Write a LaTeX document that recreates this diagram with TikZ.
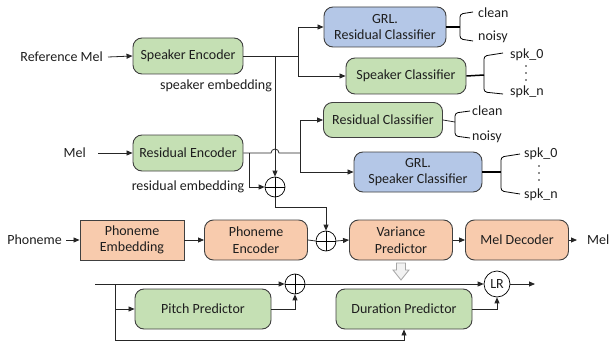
\documentclass[tikz,border=0pt]{standalone}
\usepackage{fontspec}
\setmainfont{Carlito}
\usetikzlibrary{arrows.meta}
\definecolor{gfill}{HTML}{C5E0B4}
\definecolor{bfill}{HTML}{B4C7E7}
\definecolor{ofill}{HTML}{F8CBAD}
\definecolor{edge}{HTML}{404040}
\definecolor{txt}{HTML}{1E1E1E}
\tikzset{
  box/.style={draw=edge, line width=0.9pt, rounded corners=9pt, align=center, inner sep=0pt, text=txt, font=\fontsize{14}{16.5}\selectfont},
  gbox/.style={box, fill=gfill},
  bbox/.style={box, fill=bfill},
  obox/.style={box, fill=ofill},
  plus/.style={circle, draw=black, line width=0.7pt, minimum size=20pt, inner sep=0pt,
    path picture={\draw[line width=0.7pt] (path picture bounding box.north) -- (path picture bounding box.south) (path picture bounding box.west) -- (path picture bounding box.east);}},
  lbl/.style={text=txt, font=\fontsize{14}{16.5}\selectfont, inner sep=0pt},
  conn/.style={line width=0.8pt, draw=black!85},
  arr/.style={conn, -{Triangle[length=6pt,width=5pt]}},
  brk/.style={line width=0.8pt, rounded corners=3pt},
  stub/.style={line width=1.5pt},
}
\begin{document}
\begin{tikzpicture}[x=1pt,y=-1pt]
\useasboundingbox (0,0) rectangle (611,345);
% encoders
\node[gbox, minimum width=110pt, minimum height=36pt] (spkenc) at (188,56) {Speaker Encoder};
\node[gbox, minimum width=110pt, minimum height=36pt] (resenc) at (188,153) {Residual Encoder};
\node[lbl, anchor=east] (refmel) at (103,57) {Reference Mel};
\node[lbl, anchor=east] (mel) at (86,153) {Mel};
\node[lbl] (spkemb) at (216,86) {speaker embedding};
\node[lbl] (resemb) at (188,187) {residual embedding};
% classifiers
\node[bbox, minimum width=122pt, minimum height=40pt] (grlres) at (385,27) {GRL.\\Residual Classifier};
\node[gbox, minimum width=120pt, minimum height=36pt] (spkcls) at (406,76) {Speaker Classifier};
\node[gbox, minimum width=119pt, minimum height=35pt] (rescls) at (383,120) {Residual Classifier};
\node[bbox, minimum width=128pt, minimum height=40pt] (grlspk) at (418,172) {GRL.\\Speaker Classifier};
% phoneme row
\node[obox, rounded corners=0pt, minimum width=104pt, minimum height=40pt] (phemb) at (132,240) {Phoneme\\Embedding};
\node[obox, minimum width=103pt, minimum height=40pt] (phenc) at (256,240) {Phoneme\\Encoder};
\node[obox, minimum width=103pt, minimum height=40pt] (varp) at (401,240) {Variance\\Predictor};
\node[obox, minimum width=103pt, minimum height=40pt] (meldec) at (517,240) {Mel Decoder};
\node[lbl, anchor=east] (phon) at (62,240) {Phoneme};
\node[lbl, anchor=west] (melout) at (587,240) {Mel};
\coordinate (melend) at (577,240);
% predictors
\node[gbox, minimum width=136pt, minimum height=40pt] (pitch) at (203,309) {Pitch Predictor};
\node[gbox, minimum width=136pt, minimum height=40pt] (dur) at (404,309) {Duration Predictor};
% sum circles
\node[plus] (s1) at (275,187) {};
\node[plus] (s2) at (326,241) {};
\node[plus] (s3) at (295,284) {};
\node[circle, draw=black, line width=0.7pt, minimum size=26pt, inner sep=0pt, lbl] (lr) at (497,284) {LR};
% inputs
\draw[arr] (refmel.east) ++(5,0) -- (spkenc.west);
\draw[arr] (mel.east) ++(12,0) -- (resenc.west);
\draw[arr] (phon.east) ++(4,0) -- (phemb.west);
% speaker encoder outputs
\draw[conn] (spkenc.east) -- (298,56);
\draw[arr] (298,27) -- (grlres.west);
\draw[arr] (298,27) -- (298,76) -- (spkcls.west);
\draw[arr] (275,56) -- (s1.north);
% residual encoder outputs with hop
\draw[conn] (resenc.east) -- (271,153) arc(180:360:4) -- (300,153);
\draw[arr] (300,120) -- (rescls.west);
\draw[arr] (300,120) -- (300,172) -- (grlspk.west);
\draw[arr] (249,153) -- (249,187) -- (s1.west);
% sum to second sum
\draw[arr] (s1.south) -- (275,207) -- (326,207) -- (s2.north);
% phoneme row
\draw[arr] (phemb.east) -- (phenc.west);
\draw[conn] (phenc.east) -- (s2.west);
\draw[arr] (s2.east) -- (varp.west);
\draw[arr] (varp.east) -- (meldec.west);
\draw[arr] (meldec.east) -- (melend);
% gray hollow arrow
\draw[draw=black!35, fill=black!5, line width=0.8pt] (396.5,263) -- (405.5,263) -- (405.5,270) -- (409,270) -- (401,280) -- (393,270) -- (396.5,270) -- cycle;
% bottom
\coordinate (bstart) at (95,284);
\coordinate (lrend) at (535,284);
\draw[arr] (bstart) -- (s3.west);
\draw[arr] (s3.east) -- (lr.west);
\draw[arr] (lr.east) -- (lrend);
\draw[arr] (115,284) -- (115,340) -- (404,340) -- (dur.south);
\draw[arr] (115,309) -- (pitch.west);
\draw[arr] (pitch.east) -- (295,309) -- (s3.south);
\draw[arr] (dur.east) -- (497,309) -- (lr.south);
% brackets
\draw[stub] (grlres.east) -- (460,27);
\draw[brk] (473,12) -- (460,14) -- (460,39) -- (473,41);
\node[lbl, anchor=west] (c1) at (478,13) {clean};
\node[lbl, anchor=west] (n1) at (478,37) {noisy};
\draw[stub] (spkcls.east) -- (484,75);
\draw[brk] (503,53) -- (484,56) -- (484,92) -- (503,94);
\node[lbl, anchor=west] (a1) at (510,55) {spk\_0};
\node[lbl, anchor=west] (b1) at (510,92) {spk\_n};
\foreach \yy in {66,73,80} \fill[txt] (526,\yy) circle (0.8);
\draw[conn] (rescls.east) -- (455,122);
\draw[brk] (470,111) -- (455,113) -- (455,136) -- (470,138);
\node[lbl, anchor=west] (c2) at (472,111) {clean};
\node[lbl, anchor=west] (n2) at (472,137) {noisy};
\draw[stub] (grlspk.east) -- (501,172);
\draw[brk] (520,154) -- (501,157) -- (501,191) -- (520,194);
\node[lbl, anchor=west] (a2) at (524,154) {spk\_0};
\node[lbl, anchor=west] (b2) at (524,195) {spk\_n};
\foreach \yy in {166,173,180} \fill[txt] (539,\yy) circle (0.8);
\end{tikzpicture}
\end{document}
